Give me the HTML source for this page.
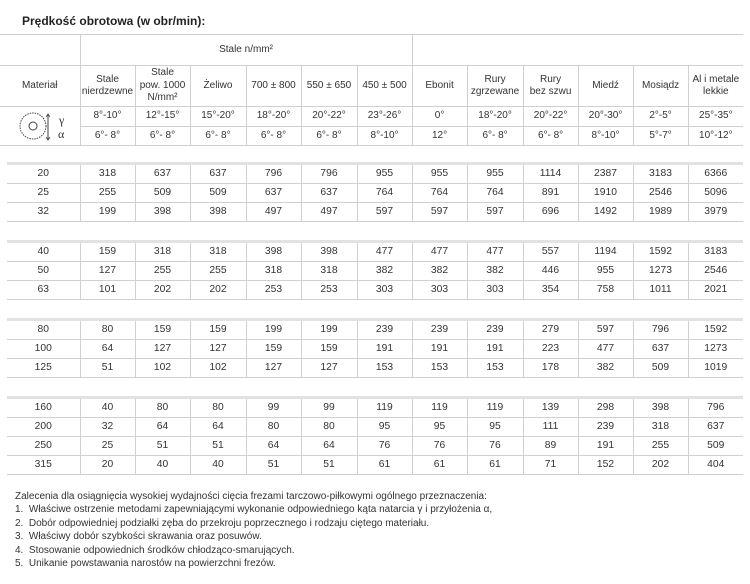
<!DOCTYPE html>
<html><head><meta charset="utf-8"><style>
body{margin:0;width:750px;height:584px;background:#fff;position:relative;font-family:"Liberation Sans",sans-serif;color:#333;overflow:hidden}
.t{position:absolute;border-collapse:collapse;table-layout:fixed;font-size:10px}
.t td{text-align:center;padding:0;line-height:12.5px;border:1px solid #d0d0d0;overflow:hidden;white-space:nowrap}
.t tr td:first-child{border-left:none}
.t tr td:last-child{border-right:none}
.g{left:7px;width:736px;font-size:10.3px}
.g tr:first-child td{border-top:3px solid #e2e2e2}
.g td{height:18px}
.title{position:absolute;left:22px;top:14px;font-size:12px;font-weight:bold;color:#222}
.notes{position:absolute;left:15px;top:490px;font-size:10px;line-height:13.4px;color:#333}
</style></head><body>
<div class="title">Prędkość obrotowa (w obr/min):</div>
<table class="t" style="left:0;top:34px;width:743px">
<colgroup><col style="width:80px"><col style="width:55px"><col style="width:55px"><col style="width:56px"><col style="width:55px"><col style="width:56px"><col style="width:55px"><col style="width:55px"><col style="width:56px"><col style="width:55px"><col style="width:55px"><col style="width:55px"><col style="width:55px"></colgroup>
<tr style="height:31px"><td></td><td colspan="6">Stale n/mm²</td><td colspan="6"></td></tr>
<tr style="height:41px"><td>Materiał</td><td>Stale<br>nierdzewne</td><td>Stale<br>pow. 1000<br>N/mm²</td><td>Żeliwo</td><td>700 ± 800</td><td>550 ± 650</td><td>450 ± 500</td><td>Ebonit</td><td>Rury<br>zgrzewane</td><td>Rury<br>bez szwu</td><td>Miedź</td><td>Mosiądz</td><td>Al i metale<br>lekkie</td></tr>
<tr style="height:19px"><td rowspan="2" style="position:relative"><svg width="80" height="38" style="display:block"><circle cx="33" cy="19" r="13" fill="none" stroke="#444" stroke-dasharray="1.5 1"/><circle cx="33" cy="19" r="4" fill="none" stroke="#444"/><line x1="48" y1="7" x2="48" y2="33" stroke="#444"/><path d="M46 10l2-3 2 3M46 30l2 3 2-3" fill="none" stroke="#444" stroke-width=".8"/><text x="59" y="17" font-size="12" font-family="Liberation Serif,serif" fill="#333">γ</text><text x="58" y="31" font-size="12" font-family="Liberation Serif,serif" fill="#333">α</text></svg></td><td>8°-10°</td><td>12°-15°</td><td>15°-20°</td><td>18°-20°</td><td>20°-22°</td><td>23°-26°</td><td>0°</td><td>18°-20°</td><td>20°-22°</td><td>20°-30°</td><td>2°-5°</td><td>25°-35°</td></tr>
<tr style="height:19px"><td>6°- 8°</td><td>6°- 8°</td><td>6°- 8°</td><td>6°- 8°</td><td>6°- 8°</td><td>8°-10°</td><td>12°</td><td>6°- 8°</td><td>6°- 8°</td><td>8°-10°</td><td>5°-7°</td><td>10°-12°</td></tr>
</table>

<table class="t g" style="top:162px">
<colgroup><col style="width:73px"><col style="width:55px"><col style="width:55px"><col style="width:56px"><col style="width:55px"><col style="width:56px"><col style="width:55px"><col style="width:55px"><col style="width:56px"><col style="width:55px"><col style="width:55px"><col style="width:55px"><col style="width:55px"></colgroup>
<tr><td>20</td><td>318</td><td>637</td><td>637</td><td>796</td><td>796</td><td>955</td><td>955</td><td>955</td><td>1114</td><td>2387</td><td>3183</td><td>6366</td></tr>
<tr><td>25</td><td>255</td><td>509</td><td>509</td><td>637</td><td>637</td><td>764</td><td>764</td><td>764</td><td>891</td><td>1910</td><td>2546</td><td>5096</td></tr>
<tr><td>32</td><td>199</td><td>398</td><td>398</td><td>497</td><td>497</td><td>597</td><td>597</td><td>597</td><td>696</td><td>1492</td><td>1989</td><td>3979</td></tr>
</table>

<table class="t g" style="top:240px">
<colgroup><col style="width:73px"><col style="width:55px"><col style="width:55px"><col style="width:56px"><col style="width:55px"><col style="width:56px"><col style="width:55px"><col style="width:55px"><col style="width:56px"><col style="width:55px"><col style="width:55px"><col style="width:55px"><col style="width:55px"></colgroup>
<tr><td>40</td><td>159</td><td>318</td><td>318</td><td>398</td><td>398</td><td>477</td><td>477</td><td>477</td><td>557</td><td>1194</td><td>1592</td><td>3183</td></tr>
<tr><td>50</td><td>127</td><td>255</td><td>255</td><td>318</td><td>318</td><td>382</td><td>382</td><td>382</td><td>446</td><td>955</td><td>1273</td><td>2546</td></tr>
<tr><td>63</td><td>101</td><td>202</td><td>202</td><td>253</td><td>253</td><td>303</td><td>303</td><td>303</td><td>354</td><td>758</td><td>1011</td><td>2021</td></tr>
</table>

<table class="t g" style="top:318px">
<colgroup><col style="width:73px"><col style="width:55px"><col style="width:55px"><col style="width:56px"><col style="width:55px"><col style="width:56px"><col style="width:55px"><col style="width:55px"><col style="width:56px"><col style="width:55px"><col style="width:55px"><col style="width:55px"><col style="width:55px"></colgroup>
<tr><td>80</td><td>80</td><td>159</td><td>159</td><td>199</td><td>199</td><td>239</td><td>239</td><td>239</td><td>279</td><td>597</td><td>796</td><td>1592</td></tr>
<tr><td>100</td><td>64</td><td>127</td><td>127</td><td>159</td><td>159</td><td>191</td><td>191</td><td>191</td><td>223</td><td>477</td><td>637</td><td>1273</td></tr>
<tr><td>125</td><td>51</td><td>102</td><td>102</td><td>127</td><td>127</td><td>153</td><td>153</td><td>153</td><td>178</td><td>382</td><td>509</td><td>1019</td></tr>
</table>

<table class="t g" style="top:396px">
<colgroup><col style="width:73px"><col style="width:55px"><col style="width:55px"><col style="width:56px"><col style="width:55px"><col style="width:56px"><col style="width:55px"><col style="width:55px"><col style="width:56px"><col style="width:55px"><col style="width:55px"><col style="width:55px"><col style="width:55px"></colgroup>
<tr><td>160</td><td>40</td><td>80</td><td>80</td><td>99</td><td>99</td><td>119</td><td>119</td><td>119</td><td>139</td><td>298</td><td>398</td><td>796</td></tr>
<tr><td>200</td><td>32</td><td>64</td><td>64</td><td>80</td><td>80</td><td>95</td><td>95</td><td>95</td><td>111</td><td>239</td><td>318</td><td>637</td></tr>
<tr><td>250</td><td>25</td><td>51</td><td>51</td><td>64</td><td>64</td><td>76</td><td>76</td><td>76</td><td>89</td><td>191</td><td>255</td><td>509</td></tr>
<tr><td>315</td><td>20</td><td>40</td><td>40</td><td>51</td><td>51</td><td>61</td><td>61</td><td>61</td><td>71</td><td>152</td><td>202</td><td>404</td></tr>
</table>

<div class="notes">
Zalecenia dla osiągnięcia wysokiej wydajności cięcia frezami tarczowo-piłkowymi ogólnego przeznaczenia:<br>
1.&nbsp; Właściwe ostrzenie metodami zapewniającymi wykonanie odpowiedniego kąta natarcia γ i przyłożenia α,<br>
2.&nbsp; Dobór odpowiedniej podziałki zęba do przekroju poprzecznego i rodzaju ciętego materiału.<br>
3.&nbsp; Właściwy dobór szybkości skrawania oraz posuwów.<br>
4.&nbsp; Stosowanie odpowiednich środków chłodząco-smarujących.<br>
5.&nbsp; Unikanie powstawania narostów na powierzchni frezów.
</div>
</body></html>
